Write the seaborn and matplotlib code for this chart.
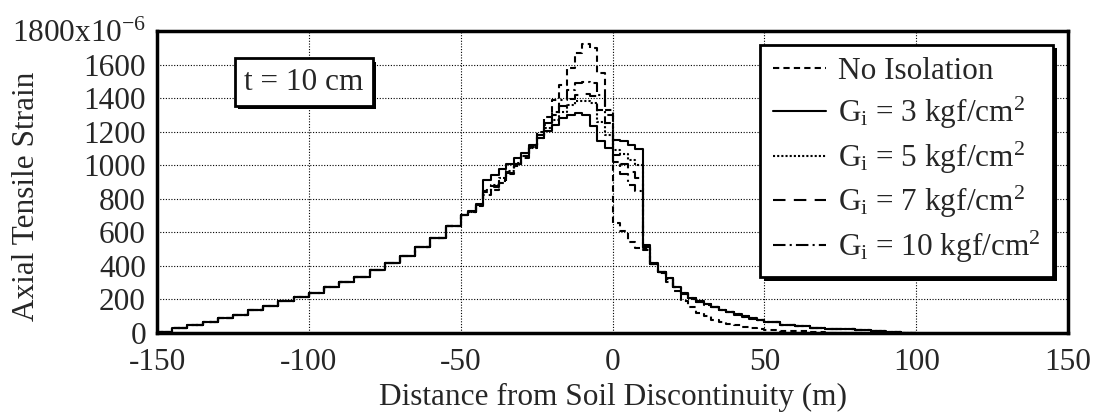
"""
Axial tensile strain along a pipeline crossing a soil discontinuity,
with and without an isolation layer (t = 10 cm).
"""

import matplotlib

matplotlib.use("Agg")
import matplotlib.patheffects as pe
import matplotlib.pyplot as plt
import numpy as np
import pandas as pd
import seaborn as sns

# element boundaries (m): coarse mesh far away, fine mesh near the discontinuity
x_edges = np.concatenate([
    np.arange(-150, -50, 5.0),
    np.arange(-50, 50, 2.5),
    np.arange(50, 101, 5.0),
])

# strain (x1e-6), -150 .. -55 m, identical for all cases
left_common = [5, 30, 48, 66, 90, 110, 135, 160, 190, 215,
               240, 275, 305, 336, 376, 416, 460, 512, 565, 635]

# -50 .. 47.5 m in 2.5 m elements
no_iso_center = [705, 720, 755, 820, 855, 895, 945, 995, 1045, 1105,
                 1200, 1290, 1390, 1480, 1580, 1670, 1720, 1700, 1550, 1330,
                 655, 605, 545, 505, 495, 410, 355, 305, 250, 190,
                 157, 121, 100, 80, 68, 56, 46, 38, 31, 24]
g3_center = [705, 725, 770, 913, 943, 980, 1010, 1043, 1073, 1122,
             1162, 1202, 1242, 1282, 1302, 1312, 1302, 1236, 1144, 1104,
             1150, 1145, 1120, 1095, 525, 416, 366, 327, 276, 237,
             207, 188, 170, 156, 140, 128, 112, 100, 88, 78]
g5_center = [705, 722, 765, 850, 885, 925, 968, 1012, 1055, 1105,
             1165, 1220, 1270, 1320, 1360, 1380, 1385, 1370, 1260, 1180,
             1090, 1065, 1030, 1000, 520, 416, 366, 327, 276, 237,
             207, 188, 170, 156, 140, 128, 112, 100, 88, 78]
g7_center = [705, 722, 765, 845, 875, 915, 960, 1008, 1055, 1108,
             1172, 1238, 1300, 1350, 1395, 1420, 1425, 1410, 1330, 1250,
             1060, 1010, 960, 925, 515, 413, 364, 325, 274, 235,
             205, 186, 168, 154, 138, 126, 110, 98, 86, 76]
g10_center = [705, 720, 762, 838, 868, 908, 955, 1005, 1055, 1110,
              1180, 1252, 1320, 1390, 1450, 1490, 1497, 1490, 1420, 1300,
              1020, 945, 885, 845, 505, 410, 362, 323, 272, 233,
              204, 185, 167, 153, 137, 125, 109, 97, 85, 75]

# 50 .. 95 m in 5 m elements
no_iso_tail = [18, 14, 10, 6, 3, 2, 1, 1, 0, 0]
iso_tail = [68, 50, 40, 32, 26, 22, 18, 12, 5, 2]

series_labels = [
    "No Isolation",
    r"G$_\mathrm{i}$ = 3 kgf/cm$^2$",
    r"G$_\mathrm{i}$ = 5 kgf/cm$^2$",
    r"G$_\mathrm{i}$ = 7 kgf/cm$^2$",
    r"G$_\mathrm{i}$ = 10 kgf/cm$^2$",
]
series_values = [
    left_common + no_iso_center + no_iso_tail,
    left_common + g3_center + iso_tail,
    left_common + g5_center + iso_tail,
    left_common + g7_center + iso_tail,
    left_common + g10_center + iso_tail,
]
line_styles = [(0, (3, 2)), "-", (0, (1, 1)), (0, (6, 4)), (0, (6, 2, 1, 2))]

x_ticks = [-150, -100, -50, 0, 50, 100, 150]
y_ticks = [0, 200, 400, 600, 800, 1000, 1200, 1400, 1600, 1800]
y_tick_labels = ["0", "200", "400", "600", "800", "1000", "1200", "1400",
                 "1600", r"1800x10$^{-6}$"]

sns.set_style("white")
plt.rcParams["font.family"] = ["Liberation Serif", "DejaVu Serif"]
plt.rcParams["mathtext.fontset"] = "custom"
plt.rcParams["mathtext.rm"] = "Liberation Serif"
plt.rcParams["mathtext.it"] = "Liberation Serif:italic"
plt.rcParams["mathtext.bf"] = "Liberation Serif:bold"

FS = 22.5

fig = plt.figure(figsize=(10.98, 4.16), dpi=100)
ax = fig.add_axes([0.143, 0.1995, 0.8297, 0.726])

for label, vals, ls in zip(series_labels, series_values, line_styles):
    y = np.append(vals, vals[-1])  # close the last step
    df = pd.DataFrame({"x": x_edges, "strain": y})
    sns.lineplot(data=df, x="x", y="strain", ax=ax, color="black",
                 linewidth=1.5, linestyle=ls, drawstyle="steps-post",
                 estimator=None, label=label)

ax.set_xlim(-150, 150)
ax.set_ylim(0, 1800)
ax.set_xticks(x_ticks)
ax.set_xticklabels([str(t) for t in x_ticks], fontsize=FS)
ax.set_yticks(y_ticks)
ax.set_yticklabels(y_tick_labels, fontsize=FS)
ax.tick_params(axis="x", direction="in", length=16, width=2.5, pad=11)
ax.tick_params(axis="y", direction="in", length=18, width=2.5, pad=8)
ax.grid(True, color="black", linestyle=(0, (1, 1.5)), linewidth=0.8)
for sp in ax.spines.values():
    sp.set_visible(True)
    sp.set_linewidth(2.5)
    sp.set_color("black")

ax.set_xlabel("Distance from Soil Discontinuity (m)", fontsize=FS, labelpad=4)
ax.set_ylabel("Axial Tensile Strain", fontsize=FS)
ax.yaxis.set_label_coords(-0.127, 0.454)

shadow = [pe.SimplePatchShadow(offset=(2.5, -2.5), shadow_rgbFace="black", alpha=1),
          pe.Normal()]

txt = ax.text(0.161, 0.831, "t = 10 cm", transform=ax.transAxes, fontsize=FS,
              ha="center", va="center",
              bbox=dict(boxstyle="square,pad=0.3", fc="white", ec="black", lw=2))
txt.get_bbox_patch().set_path_effects(shadow)

leg = ax.legend(loc="upper right", bbox_to_anchor=(0.984, 0.954), fontsize=FS,
                frameon=True, fancybox=False, edgecolor="black", framealpha=1,
                handlelength=1.7, handletextpad=0.4, labelspacing=0.27,
                borderpad=0.4, borderaxespad=0)
leg.get_frame().set_linewidth(2)
leg.get_frame().set_path_effects(shadow)

fig.savefig("out.png", dpi=100)
